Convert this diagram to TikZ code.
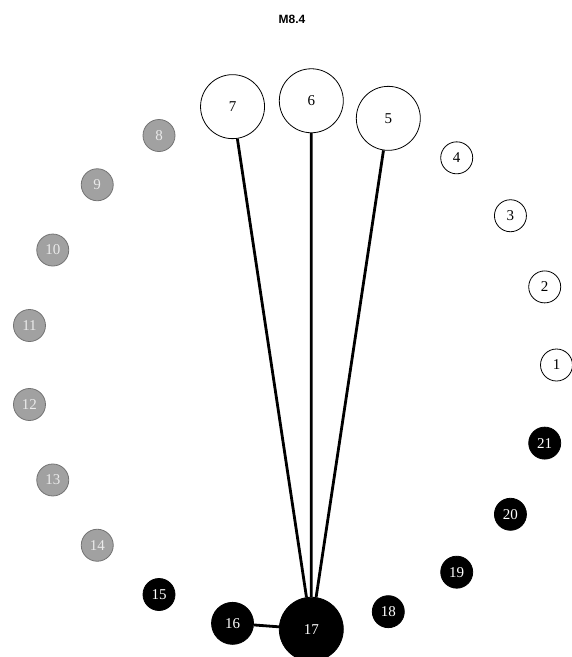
\documentclass[tikz,border=0pt]{standalone}
\usepackage{fontspec}
\setmainfont{Liberation Serif}
\newfontfamily\titlefont{Liberation Sans}
\begin{document}
\begin{tikzpicture}[x=1pt,y=-1pt,
  base/.style={circle,inner sep=0pt,line width=0.8pt,font=\fontsize{15}{15}\selectfont},
  wnode/.style={base,draw=black,fill=white,text=black},
  gnode/.style={base,draw=black!55,fill=black!37,text=white!92!black},
  bnode/.style={base,draw=black,fill=black,text=white},
  small/.style={minimum size=32pt},
  mid/.style={minimum size=42pt},
  big/.style={minimum size=64pt},
  wS/.style={wnode,small}, wB/.style={wnode,big},
  gS/.style={gnode,small},
  bS/.style={bnode,small}, bM/.style={bnode,mid}, bB/.style={bnode,big},
  link/.style={line width=2.8pt,black}]
\useasboundingbox (0,0) rectangle (572,657);
\node[font=\titlefont\bfseries\fontsize{12}{12}\selectfont] (title) at (292,19) {M8.4};
\def\cx{291.5}\def\cy{365}\def\R{265}
\foreach \k/\sty in {1/wS,2/wS,3/wS,4/wS,5/wB,6/wB,7/wB,
  8/gS,9/gS,10/gS,11/gS,12/gS,13/gS,14/gS,
  15/bS,16/bM,17/bB,18/bS,19/bS,20/bS,21/bS}{
  \pgfmathsetmacro\ang{(\k-1)*360/21}
  \node[\sty] (n\k) at ({\cx+\R*cos(\ang)},{\cy-\R*sin(\ang)}) {\k};
}
\draw[link] (n7) -- (n17);
\draw[link] (n6) -- (n17);
\draw[link] (n5) -- (n17);
\draw[link] (n16) -- (n17);
\end{tikzpicture}
\end{document}
